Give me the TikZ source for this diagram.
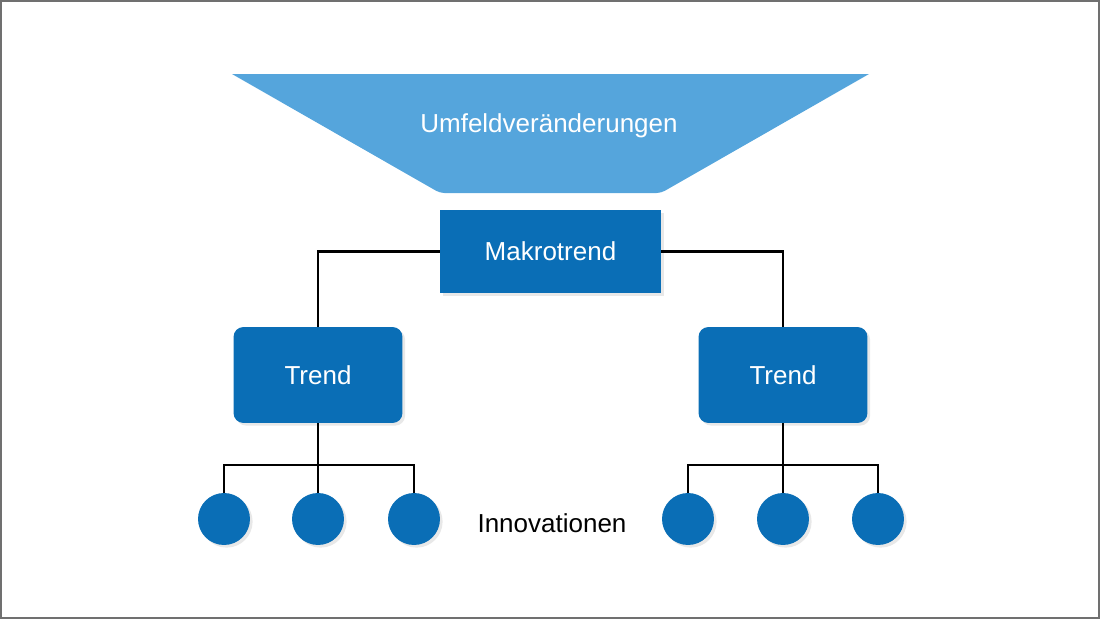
\documentclass[tikz,border=0pt]{standalone}
\usepackage{fontspec}
\setmainfont{Liberation Sans}
\usepackage{tikz}
\usetikzlibrary{positioning,shadows}
\definecolor{lightblue}{HTML}{55A5DC}
\definecolor{darkblue}{HTML}{0A6EB6}
\definecolor{framegray}{HTML}{707070}

\begin{document}
\begin{tikzpicture}[
x=0.02cm, y=-0.02cm,
font=\fontsize{14.8}{17}\selectfont,
box/.style={fill=darkblue,text=white,drop shadow={opacity=0.18,shadow xshift=1.5pt,shadow yshift=-1.5pt}},
trendbox/.style={box,rounded corners=0.2cm,minimum width=3.38cm,minimum height=1.92cm},
dot/.style={circle,fill=darkblue,minimum size=1.04cm,inner sep=0pt,drop shadow={opacity=0.18,shadow xshift=1.5pt,shadow yshift=-1.5pt}},
link/.style={line width=1.2pt,black}
]
    % Frame
    \useasboundingbox (0,0) rectangle (1100,619);
    \draw[framegray,line width=1.2pt] (1,1) rectangle (1099,618);

    % Funnel
    \fill[lightblue] (869,74) [rounded corners=2.5pt] -- (661,193) -- (440,193)
        -- (336,133.5) [sharp corners] -- (232,74) -- cycle;
    \node[text=white] (umfeld) at (549,126) {Umfeldveränderungen};

    % Boxes
    \node[box,minimum width=4.42cm,minimum height=1.66cm] (makro) at (550.5,251.5) {Makrotrend};
    \node[trendbox] (trendL) at (318,375) {Trend};
    \node[trendbox] (trendR) at (783,375) {Trend};

    % Innovations
    \node[dot] (iL1) at (224,519) {};
    \node[dot] (iL2) at (318,519) {};
    \node[dot] (iL3) at (414,519) {};
    \node[dot] (iR1) at (688,519) {};
    \node[dot] (iR2) at (783,519) {};
    \node[dot] (iR3) at (878,519) {};
    \node (innov) at (552,523) {Innovationen};

    % Connectors
    \draw[link] (makro.west) -| (trendL.north);
    \draw[link] (makro.east) -| (trendR.north);
    \draw[link] (trendL.south) -- (iL2.north);
    \draw[link] (trendR.south) -- (iR2.north);
    \coordinate (jL) at (318,465);
    \coordinate (jR) at (783,465);
    \draw[link] (iL1.north) |- (jL) -| (iL3.north);
    \draw[link] (iR1.north) |- (jR) -| (iR3.north);
\end{tikzpicture}
\end{document}
